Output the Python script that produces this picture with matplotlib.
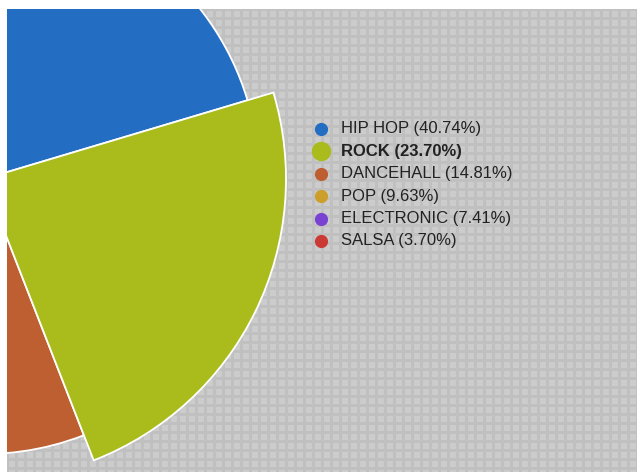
import numpy as np
import matplotlib
matplotlib.use('Agg')
import matplotlib.pyplot as plt

# datos del grafico (total = 135)
generos = ['HIP HOP', 'ROCK', 'DANCEHALL', 'POP', 'ELECTRONIC', 'SALSA']
cantidades = [55, 32, 20, 13, 10, 5]
colores = ['#236ec2', '#a9bc1c', '#bd5f31', '#cc9f2a', '#7a42d2', '#cb3b36']
resaltado = 'ROCK'

W, H = 637, 472
fig = plt.figure(figsize=(W / 100, H / 100), dpi=100)
fig.patch.set_facecolor('white')

# el area gris empieza en x=7 y termina 9 px debajo del borde superior
ax = fig.add_axes([7 / W, 0, (W - 7) / W, (H - 9) / H])
ax.set_xlim(7, W)
ax.set_ylim(0, H - 9)
ax.axis('off')

# fondo con cuadritos
alto, ancho = H - 9, W - 7
yy, xx = np.mgrid[0:alto, 0:ancho]
fondo = np.full((alto, ancho), 0.75)
cuadro = ((xx % 9) >= 2) & ((xx % 9) <= 7) & ((yy % 9) >= 2) & ((yy % 9) <= 7)
fondo[cuadro] = 0.80
ax.imshow(fondo, cmap='gray', vmin=0, vmax=1, extent=(7, W, 0, H - 9),
          interpolation='nearest', zorder=0)

# pastel (el centro queda fuera del area visible)
centro = (-16, H - 179)
wedges, _ = ax.pie(cantidades, colors=colores, radius=275, center=centro,
                   startangle=163.3, counterclock=False,
                   wedgeprops=dict(edgecolor='white', linewidth=1.3))
for w, g in zip(wedges, generos):
    w.set_zorder(2)
    w.set_clip_on(True)
    w.set_clip_path(ax.patch)
    if g == resaltado:
        w.set_radius(302)
        w.set_zorder(3)

ax.set_xlim(7, W)
ax.set_ylim(0, H - 9)
ax.set_aspect('auto')

# leyenda
total = sum(cantidades)
for i, (g, c, col) in enumerate(zip(generos, cantidades, colores)):
    y = H - (129 + 22.4 * i)
    negrita = g == resaltado
    ax.plot(321, y, 'o', color=col, markersize=14 if negrita else 9.5,
            markeredgewidth=0, zorder=4)
    ax.text(341, y, f'{g} ({100 * c / total:.2f}%)', fontsize=12,
            family='Liberation Sans', color='#222222', va='center',
            fontweight='bold' if negrita else 'normal', zorder=4)

plt.savefig('out.png', dpi=100)
